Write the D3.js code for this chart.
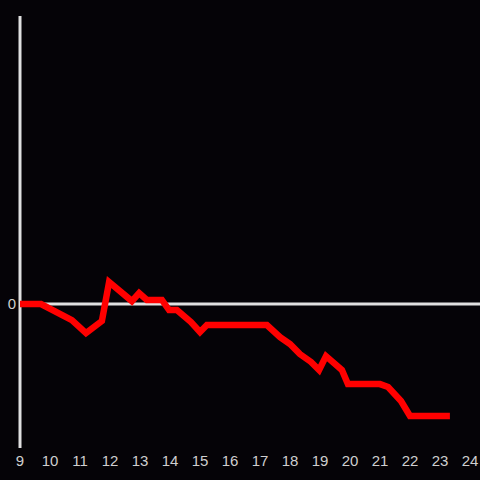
<!DOCTYPE html>
<html>
<head>
<meta charset="utf-8">
<script src="https://cdn.jsdelivr.net/npm/d3@7"></script>
<style>
  html, body { margin: 0; padding: 0; background: #050307; }
  svg { display: block; }
</style>
</head>
<body>
<svg id="viz" width="480" height="480"></svg>
<script>
// hour of day
let hours = [9, 9.7, 10.73, 11.2, 11.73, 11.97, 12.73, 12.97, 13.23, 13.73, 13.97, 14.23,
    14.7, 15, 15.23, 17.23, 17.67, 18, 18.33, 18.7, 18.97, 19.2, 19.73, 19.93, 21,
    21.27, 21.7, 22, 23.33];
// running value
let values = [0, 0, -0.056, -0.101, -0.059, 0.076, 0.01, 0.038, 0.014, 0.014, -0.021, -0.021,
    -0.0625, -0.097, -0.073, -0.073, -0.115, -0.139, -0.174, -0.201, -0.229, -0.181, -0.229,
    -0.278, -0.278, -0.288, -0.337, -0.389, -0.389];
let xTicks = d3.range(9, 25);
let yTicks = [0];

let svg = d3.select("#viz");
let width = parseInt(svg.attr("width"));
let height = parseInt(svg.attr("height"));

svg.append("rect").attr("width", width).attr("height", height).attr("fill", "#050307");

let x = d3.scaleLinear().domain([9, 24]).range([20, 470]);
let y = d3.scaleLinear().domain([-0.5, 1]).range([448, 16]);

// y axis line
svg.append("line")
    .attr("x1", x(9)).attr("x2", x(9))
    .attr("y1", y(1)).attr("y2", y(-0.5))
    .attr("stroke", "#e0e0e0").attr("stroke-width", 3);

// zero line
svg.append("line")
    .attr("x1", x(9)).attr("x2", width)
    .attr("y1", y(0)).attr("y2", y(0))
    .attr("stroke", "#e0e0e0").attr("stroke-width", 3);

// x labels
svg.selectAll(".xlab").data(xTicks).join("text")
    .attr("class", "xlab")
    .attr("x", d => x(d))
    .attr("y", 461)
    .attr("dy", "0.35em")
    .attr("text-anchor", "middle")
    .attr("fill", "#cfcfcf")
    .style("font", "15px 'Liberation Sans', Arial, sans-serif")
    .text(d => d);

// y labels
svg.selectAll(".ylab").data(yTicks).join("text")
    .attr("class", "ylab")
    .attr("x", 12)
    .attr("y", d => y(d))
    .attr("dy", "0.35em")
    .attr("text-anchor", "middle")
    .attr("fill", "#cfcfcf")
    .style("font", "15px 'Liberation Sans', Arial, sans-serif")
    .text(d => d);

let line = d3.line()
    .x((d, i) => x(hours[i]))
    .y(d => y(d));

svg.append("path")
    .datum(values)
    .attr("d", line)
    .attr("fill", "none")
    .attr("stroke", "#ff0000")
    .attr("stroke-width", 6.5);
</script>
</body>
</html>
